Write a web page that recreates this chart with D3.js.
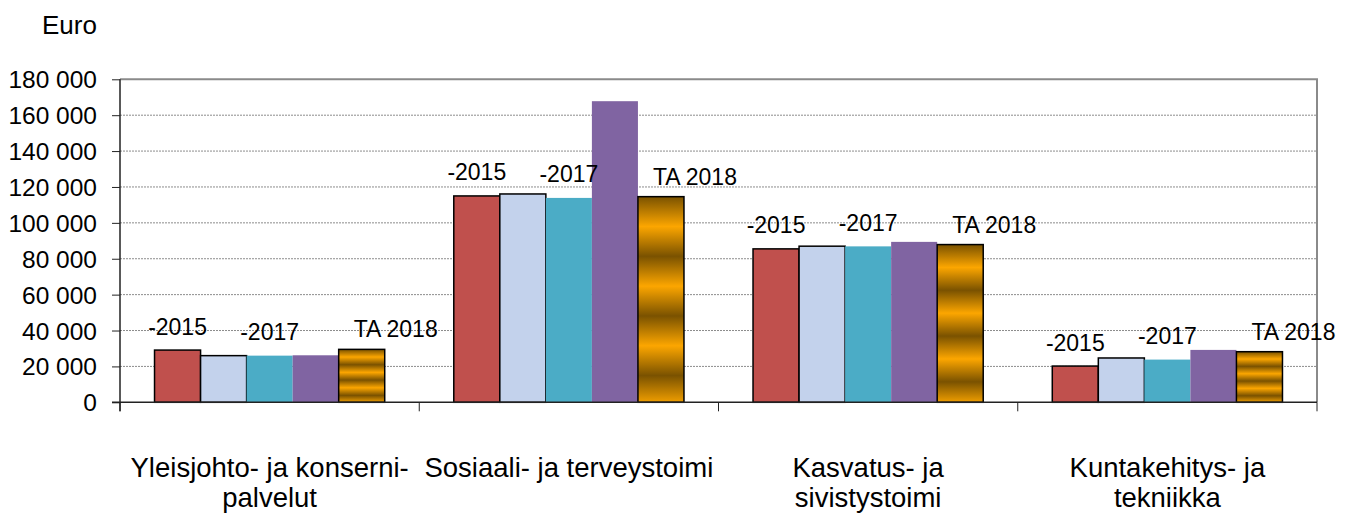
<!DOCTYPE html>
<html>
<head>
<meta charset="utf-8">
<script src="https://cdn.jsdelivr.net/npm/d3@7"></script>
<style>
  body { margin: 0; background: #fff; }
  svg text { font-family: "Liberation Sans", Arial, sans-serif; fill: #000; }
  .grid line { stroke: #8c8c8c; stroke-dasharray: 2,1; }
</style>
</head>
<body>
<svg id="chart" width="1345" height="513"></svg>
<script>
// data
var categories = [
   ["Yleisjohto- ja konserni-", "palvelut"],
   ["Sosiaali- ja terveystoimi"],
   ["Kasvatus- ja", "sivistystoimi"],
   ["Kuntakehitys- ja", "tekniikka"]
];
var seriesLabels = ["-2015", "", "-2017", "", "TA 2018"];
var values = [
   [29100, 26000, 26000, 26200, 29500],
   [115000, 116100, 113900, 167800, 114600],
   [85500, 87000, 86900, 89400, 87900],
   [20200, 24700, 23800, 29200, 28200]
];
var yTicks = [0, 20000, 40000, 60000, 80000, 100000, 120000, 140000, 160000, 180000];
var seriesFill = ["#c0504d", "#c3d2ec", "#4bacc6", "#8064a2", "url(#gold)"];
var seriesStroke = ["#000", "#000", "none", "none", "#000"];

var svg = d3.select("#chart");
var plotLeft = 120, plotRight = 1317, plotTop = 79.3, plotBottom = 402.3;

var x0 = d3.scaleBand().domain(d3.range(categories.length)).range([plotLeft, plotRight]);
var x1 = d3.scaleBand().domain(d3.range(seriesLabels.length))
   .range([0, x0.bandwidth()]).paddingInner(0).paddingOuter(0.75);
var y = d3.scaleLinear().domain([0, 180000]).range([plotBottom, plotTop]);

var fmt = function(d){ return d3.format(",")(d).replace(/,/g, " "); };

// gold striped fill
var grad = svg.append("defs").append("linearGradient")
   .attr("id", "gold")
   .attr("x1", 0).attr("y1", 0).attr("x2", 0).attr("y2", 0.29)
   .attr("spreadMethod", "repeat");
grad.append("stop").attr("offset", 0).attr("stop-color", "#7a5200");
grad.append("stop").attr("offset", 0.5).attr("stop-color", "#fca600");
grad.append("stop").attr("offset", 1).attr("stop-color", "#7a5200");

// y title
svg.append("text").attr("x", 42).attr("y", 34).style("font-size", "26px").text("Euro");

// gridlines
svg.append("g").attr("class", "grid")
   .selectAll("line")
   .data(yTicks.filter(function(d){ return d > 0 && d < 180000; }))
   .enter().append("line")
   .attr("x1", plotLeft).attr("x2", plotRight)
   .attr("y1", function(d){ return y(d); })
   .attr("y2", function(d){ return y(d); });

// frame top / right
svg.append("path")
   .attr("d", "M" + plotLeft + "," + y(180000) + "H" + plotRight + "V" + plotBottom)
   .attr("fill", "none").attr("stroke", "#8a8a8a").attr("stroke-width", 2);

// y axis
var yAxis = svg.append("g").attr("transform", "translate(" + plotLeft + ",0)")
   .call(d3.axisLeft(y).tickValues(yTicks).tickFormat(fmt).tickSize(8).tickPadding(15));
yAxis.select(".domain").attr("stroke", "#222").attr("stroke-width", 1.5)
   .attr("d", "M0," + plotTop + "V" + (plotBottom + 9));
yAxis.selectAll(".tick line").attr("stroke", "#222");
yAxis.selectAll("text").style("font-size", "24.5px").attr("dy", "0.35em");

// bars
var groups = svg.selectAll("g.cat")
   .data(values)
   .enter().append("g")
   .attr("class", "cat")
   .attr("transform", function(d, i){ return "translate(" + x0(i) + ",0)"; });

groups.selectAll("rect")
   .data(function(d){ return d; })
   .enter().append("rect")
   .attr("x", function(d, i){ return x1(i); })
   .attr("y", function(d){ return y(d); })
   .attr("width", x1.bandwidth())
   .attr("height", function(d){ return y(0) - y(d); })
   .attr("fill", function(d, i){ return seriesFill[i]; })
   .attr("stroke", function(d, i){ return seriesStroke[i]; })
   .attr("stroke-width", 1.5);

// data labels (series names)
groups.selectAll("text.lbl")
   .data(function(d){
      return d.map(function(v, s){ return {v: v, s: s}; })
         .filter(function(o){ return seriesLabels[o.s] !== ""; });
   })
   .enter().append("text")
   .attr("class", "lbl")
   .attr("text-anchor", "middle")
   .attr("x", function(o){ return x1(o.s) + x1.bandwidth() / 2 + (o.s === 4 ? 34 : 0); })
   .attr("y", function(o){ return y(o.v) - (o.s === 4 ? 12 : 15.5); })
   .style("font-size", "23px")
   .text(function(o){ return seriesLabels[o.s]; });

// x axis
var xAxis = svg.append("g").attr("transform", "translate(0," + plotBottom + ")");
xAxis.append("line").attr("x1", plotLeft - 8).attr("x2", plotRight)
   .attr("stroke", "#222").attr("stroke-width", 1.5);
xAxis.selectAll("line.tk")
   .data(d3.range(categories.length + 1))
   .enter().append("line")
   .attr("class", "tk")
   .attr("x1", function(d){ return plotLeft + d * x0.step(); })
   .attr("x2", function(d){ return plotLeft + d * x0.step(); })
   .attr("y1", 0).attr("y2", 9)
   .attr("stroke", "#222");

// category labels
var catText = svg.selectAll("text.cat")
   .data(categories)
   .enter().append("text")
   .attr("class", "cat")
   .attr("text-anchor", "middle")
   .style("font-size", "27.5px");
catText.selectAll("tspan")
   .data(function(d, i){ return d.map(function(s){ return {s: s, i: i}; }); })
   .enter().append("tspan")
   .attr("x", function(d){ return x0(d.i) + x0.bandwidth() / 2; })
   .attr("y", function(d, j){ return 477 + j * 30; })
   .text(function(d){ return d.s; });
</script>
</body>
</html>
